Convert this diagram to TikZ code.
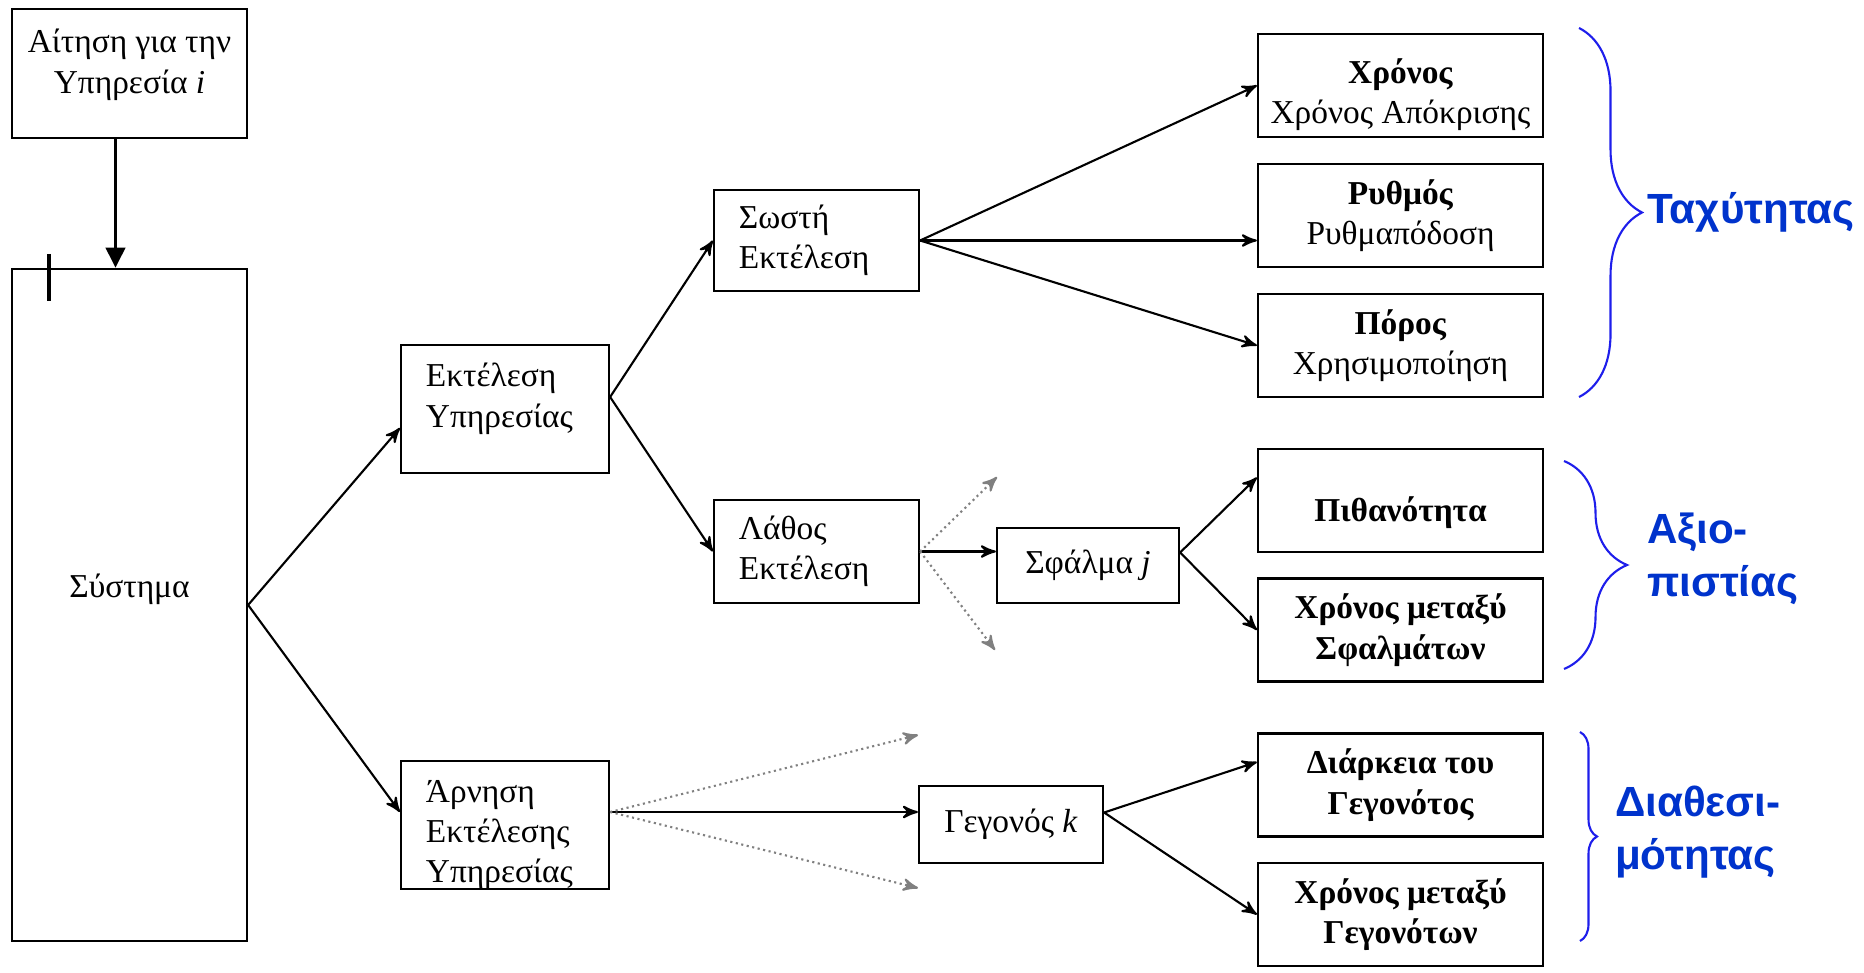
\documentclass[tikz,border=0pt]{standalone}
\usepackage{fontspec}
\setmainfont{Liberation Serif}
\newfontfamily\labelfont{Liberation Sans}
\usepackage{tikz}
\usetikzlibrary{arrows,arrows.meta,calc,decorations.pathreplacing}
\definecolor{bracecol}{RGB}{30,30,235}
\definecolor{labelcol}{RGB}{0,51,204}
\newcommand{\txtdown}[1]{\raisebox{-#1}[\height][\depth]}% move text, keep box size
\tikzset{
  box/.style = {rectangle, draw=black, semithick, inner sep=0pt, align=center,
    font=\fontsize{9.5}{11.5}\selectfont},
  lbox/.style = {box, align=left, inner xsep=0.25cm},% text on the left side
  mbox/.style = {box, minimum width=2.85cm, minimum height=1.03cm},% metric boxes
  maybe/.style = {densely dotted, gray, semithick},% other outcomes
  grp/.style = {-, draw=bracecol, semithick, decorate,
    decoration={brace, amplitude=#1}},
  grplabel/.style = {anchor=west, align=left, inner sep=0pt, text=labelcol,
    font=\fontsize{12}{15}\selectfont\labelfont\bfseries}
}

\begin{document}
\begin{tikzpicture}[->,>=stealth',semithick,x=0.01cm,y=-0.01cm]
    \useasboundingbox (0,0) rectangle (1864,973);
    % request and system
    \node [box, minimum width=2.35cm, minimum height=1.29cm] (req) at (129.5,73.5)
        {Αίτηση για την\\Υπηρεσία \textit{i}\\[-4.5pt]\mbox{}};
    \node [box, minimum width=2.35cm, minimum height=6.72cm] (sys) at (129.5,605)
        {\txtdown{-0.16cm}{Σύστημα}};
    \draw [-, line width=1pt] ($(sys.north west)+(38,-14)$) -- ++(0,47);
    % execution branches
    \node [lbox, text width=1.58cm, minimum height=1.28cm] (ek) at (505,409)
        {Εκτέλεση\\Υπηρεσίας\\[-3.7pt]\mbox{}};
    \node [lbox, text width=1.58cm, minimum height=1.28cm] (ar) at (505,825)
        {\txtdown{0.1cm}{Άρνηση}\\\txtdown{0.1cm}{Εκτέλεσης}\\\txtdown{0.1cm}{Υπηρεσίας}};
    \node [lbox, text width=1.55cm, minimum height=1.01cm] (sw) at (816.5,240.5)
        {Σωστή\\Εκτέλεση};
    \node [lbox, text width=1.55cm, minimum height=1.03cm] (la) at (816.5,551.5)
        {Λάθος\\Εκτέλεση};
    \node [box, minimum width=1.82cm, minimum height=0.75cm] (sf) at (1088,565.5)
        {Σφάλμα \textit{j}};
    \node [box, minimum width=1.84cm, minimum height=0.77cm] (ge) at (1011,824.5)
        {Γεγονός \textit{k}};
    % metrics
    \node [mbox] (xr) at (1400.5,85.5)
        {\txtdown{0.09cm}{\textbf{Χρόνος}}\\\txtdown{0.09cm}{Χρόνος Απόκρισης}};
    \node [mbox] (ry) at (1400.5,215.5) {\textbf{Ρυθμός}\\Ρυθμαπόδοση};
    \node [mbox] (po) at (1400.5,345.5) {\textbf{Πόρος}\\Χρησιμοποίηση};
    \node [mbox, font=\fontsize{9.5}{11.5}\selectfont\bfseries] (pi) at (1400.5,500.5)
        {\txtdown{0.12cm}{Πιθανότητα}};
    \node [mbox, font=\fontsize{9.5}{11.5}\selectfont\bfseries] (xs) at (1400.5,630)
        {Χρόνος μεταξύ\\Σφαλμάτων};
    \node [mbox, font=\fontsize{9.5}{11.5}\selectfont\bfseries] (di) at (1400.5,785)
        {Διάρκεια του\\Γεγονότος};
    \node [mbox, font=\fontsize{9.5}{11.5}\selectfont\bfseries] (xg) at (1400.5,914.5)
        {Χρόνος μεταξύ\\Γεγονότων};
    % free ends of the dotted arrows
    \coordinate (lup) at (997,477);
    \coordinate (ldn) at (995,650);
    \coordinate (aup) at (918,735);
    \coordinate (adn) at (918,888);
    \coordinate (rqout) at ($(req.south)+(-14,0)$);
    \coordinate (arout) at ($(ar.east)+(0,-13)$);
    \coordinate (sfout) at ($(sf.east)+(0,-13)$);
    \coordinate (geout) at ($(ge.east)+(0,-12)$);

    \draw [-{Triangle[length=0.2cm,width=0.19cm]}, line width=1.1pt] (rqout) -- (rqout |- sys.north);
    \draw (sys.east) -- ($(ek.west)+(0,19)$);
    \draw (sys.east) -- ($(ar.west)+(0,-13)$);
    \draw ($(ek.east)+(0,-12)$) -- (sw.west);
    \draw ($(ek.east)+(0,-12)$) -- (la.west);
    \draw (sw.east) -- (xr.west);
    \draw (sw.east) -- (sw.east -| ry.west);
    \draw (sw.east) -- (po.west);
    \draw (la.east) -- (la.east -| sf.west);
    \draw [maybe] (la.east) -- (lup);
    \draw [maybe] (la.east) -- (ldn);
    \draw (sfout) -- ($(pi.west)+(0,-23)$);
    \draw (sfout) -- (xs.west);
    \draw (arout) -- (arout -| ge.west);
    \draw [maybe] (arout) -- (aup);
    \draw [maybe] (arout) -- (adn);
    \draw (geout) -- ($(di.west)+(0,-23)$);
    \draw (geout) -- (xg.west);

    % groups
    \draw [grp=0.63cm] (1579,28) -- (1579,397);
    \node [grplabel] (tax) at (1646,212) {Ταχύτητας};
    \draw [grp=0.63cm] (1564,461) -- (1564,669);
    \node [grplabel] (axi) at (1646,559) {Αξιο-\\πιστίας};
    \draw [grp=0.17cm] (1580,732) -- (1580,941);
    \node [grplabel] (dia) at (1614,832) {Διαθεσι-\\μότητας};
\end{tikzpicture}
\end{document}
